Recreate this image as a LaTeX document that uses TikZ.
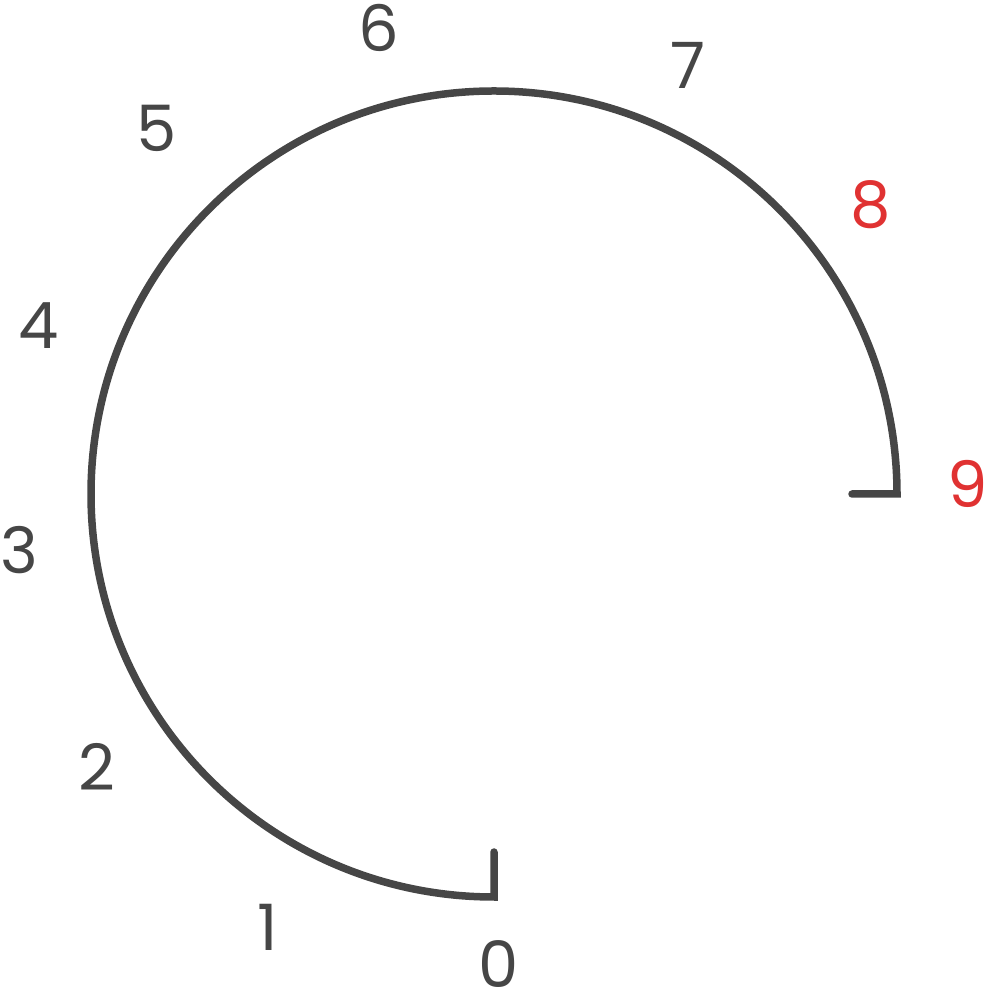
\documentclass[tikz,border=0pt]{standalone}
\usepackage{fontspec}
\setmainfont{Poppins}
\definecolor{ink}{HTML}{464646}
\definecolor{hot}{HTML}{E03232}
\begin{document}
\begin{tikzpicture}[x=1pt,y=1pt,
  lbl/.style={inner sep=0pt,font=\fontsize{64}{64}\selectfont,text=ink},
  hotlbl/.style={lbl,text=hot},
  dial/.style={draw=ink,line width=7.5pt,line cap=round,line join=miter}]
\useasboundingbox (0,0) rectangle (988,992);
\coordinate (c) at (494,498);
\coordinate (t9) at (852,498);
\coordinate (t0) at (494,140);
\draw[dial] (t9) -- (897,498) arc[start angle=0,end angle=270,radius=403] -- (t0);
\node[lbl] (n0) at (499,28) {0};
\node[lbl] (n1) at (268,65) {1};
\node[lbl] (n2) at (97,225) {2};
\node[lbl] (n3) at (19,442) {3};
\node[lbl] (n4) at (39,666) {4};
\node[lbl] (n5) at (157,864) {5};
\node[lbl] (n6) at (379,964) {6};
\node[lbl] (n7) at (688,927) {7};
\node[hotlbl] (n8) at (871,787) {8};
\node[hotlbl] (n9) at (968,508) {9};
\end{tikzpicture}
\end{document}
